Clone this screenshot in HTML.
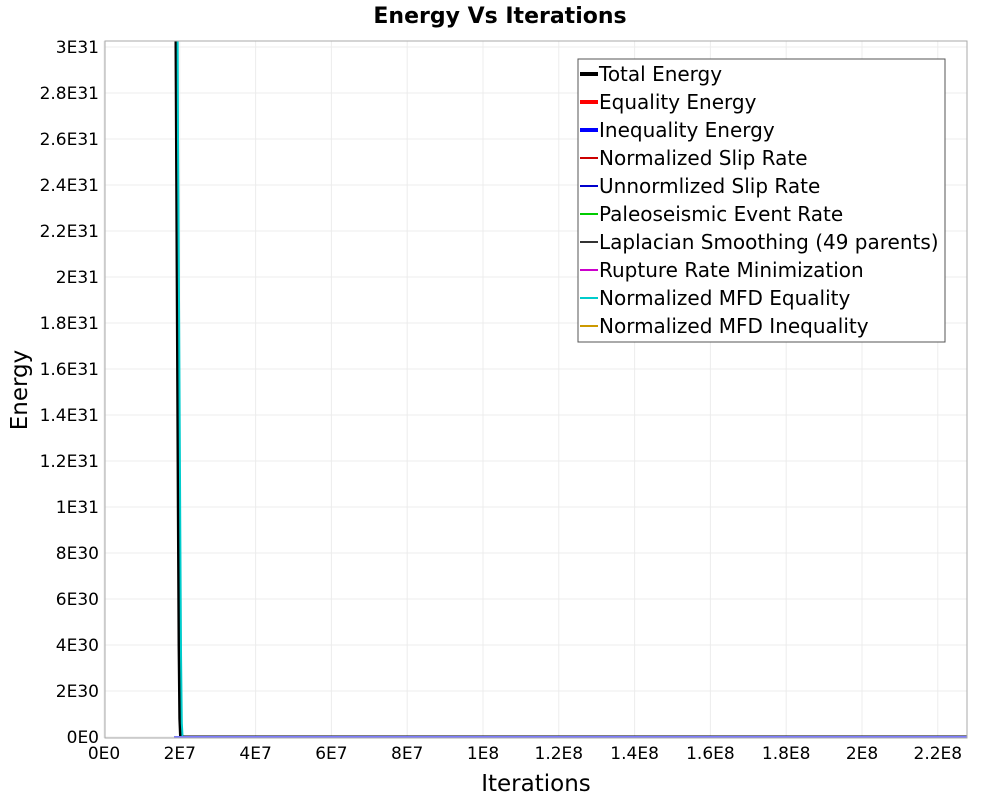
<!DOCTYPE html>
<html><head><meta charset="utf-8"><style>
body{margin:0;background:#fff;font-family:"DejaVu Sans","Liberation Sans",sans-serif}
svg text{font-family:"DejaVu Sans","Liberation Sans",sans-serif}
</style></head><body>
<svg id="chart" width="1000" height="800" viewBox="0 0 1000 800">
<rect x="0" y="0" width="1000" height="800" fill="#fff"/>
<text x="500" y="23" text-anchor="middle" font-size="22" font-weight="bold">Energy Vs Iterations</text>
<g id="grid"></g>
<g id="series"></g>
<rect x="105" y="41" width="862" height="697" fill="none" stroke="#aaa"/>
<g id="axes"></g>
<text x="536" y="791" text-anchor="middle" font-size="23">Iterations</text>
<text x="27" y="390" text-anchor="middle" font-size="23" transform="rotate(-90 27 390)">Energy</text>
<g id="legend"></g>
</svg>
<script>
const xTicks=[0,2e7,4e7,6e7,8e7,1e8,1.2e8,1.4e8,1.6e8,1.8e8,2e8,2.2e8];
const xTickLabels=["0E0","2E7","4E7","6E7","8E7","1E8","1.2E8","1.4E8","1.6E8","1.8E8","2E8","2.2E8"];
const yTicks=[0,2e30,4e30,6e30,8e30,1e31,1.2e31,1.4e31,1.6e31,1.8e31,2e31,2.2e31,2.4e31,2.6e31,2.8e31,3e31];
const yTickLabels=["0E0","2E30","4E30","6E30","8E30","1E31","1.2E31","1.4E31","1.6E31","1.8E31","2E31","2.2E31","2.4E31","2.6E31","2.8E31","3E31"];
const iterations=[1.85e7,1.9e7,1.93e7,1.96e7,1.98e7,2.0e7,2.02e7,2.1e7,1e8,2.3e8];
const totalEnergy=[6e31,3e31,2e31,1e31,4e30,8e29,0,0,0,0];
const equalityEnergy=[6e31,3.1e31,2.1e31,1.1e31,4.5e30,1e30,0,0,0,0];
const slipRate=[6e31,3.2e31,2.3e31,1.3e31,6e30,1.5e30,1e29,0,0,0];
const mfdEquality=[5e31,2.6e31,1.8e31,9e30,3.5e30,6e29,0,0,0,0];
const smoothing=[5.5e31,2.8e31,1.9e31,9.5e30,3.8e30,7e29,0,0,0,0];
const inequalityEnergy=[0,0,0,0,0,0,0,0,0,0];
const legendNames=["Total Energy","Equality Energy","Inequality Energy","Normalized Slip Rate","Unnormlized Slip Rate","Paleoseismic Event Rate","Laplacian Smoothing (49 parents)","Rupture Rate Minimization","Normalized MFD Equality","Normalized MFD Inequality"];
const legendColors=["#000","#f00","#00f","#c00","#00c","#0c0","#333","#c0c","#0cc","#c90"];
const X0=104,XS=3.79e-6,Y0=737,YS=690/3e31;
const xs=v=>X0+v*XS, ys=v=>Y0-v*YS;
const NS="http://www.w3.org/2000/svg";
function mk(t,p,a){const e=document.createElementNS(NS,t);for(const k in a)e.setAttribute(k,a[k]);p.appendChild(e);return e;}
const grid=document.getElementById('grid'),axes=document.getElementById('axes');
xTicks.forEach((v,i)=>{
 const l=mk('line',grid,{x1:xs(v),x2:xs(v),y1:41,y2:738,stroke:'#ececec'});
 
 
 const t=mk('text',axes,{x:xs(v),y:759,'text-anchor':'middle','font-size':17});
 t.textContent=xTickLabels[i];
 
 
});
yTicks.forEach((v,i)=>{
 const l=mk('line',grid,{x1:105,x2:967,y1:ys(v),y2:ys(v),stroke:'#ececec'});
 
 
 const t=mk('text',axes,{x:99,y:ys(v)+6,'text-anchor':'end','font-size':17});
 t.textContent=yTickLabels[i];
 
 
});
const ser=document.getElementById('series');
const cp=mk('clipPath',ser,{id:'cp'});mk('rect',cp,{x:105,y:41,width:862,height:697});
function draw(vals,color,w,name,dx){
 const pts=iterations.map((x,i)=>(xs(x)+dx)+','+ys(vals[i])).join(' ');
 const p=mk('polyline',ser,{points:pts,fill:'none',stroke:color,'stroke-width':w,'clip-path':'url(#cp)'});
 
 
}
draw(slipRate,'#c66',2,'series-normalized-slip-rate',1);
draw(equalityEnergy,'#f00',2,'series-equality-energy',0);
draw(smoothing,'#555',2,'series-laplacian-smoothing',0);
draw(totalEnergy,'#000',3,'series-total-energy',0);
draw(mfdEquality,'#0cc',2,'series-mfd-equality',2);
draw(inequalityEnergy,'#c90',2,'series-mfd-inequality',0);
draw(inequalityEnergy,'#7a7aff',2,'series-inequality-energy',0);
const lg=document.getElementById('legend');
const box=mk('rect',lg,{x:578,y:59,width:367,height:283,fill:'#fff',stroke:'#555'});


legendNames.forEach((n,i)=>{
 const y=74+i*28;
 const g=mk('g',lg,{});
 
 
 mk('line',g,{x1:580,x2:598,y1:y,y2:y,stroke:legendColors[i],'stroke-width':i<3?4:2});
 const t=mk('text',g,{x:599,y:y+7,'font-size':20});t.textContent=n;
});
</script>
</body></html>
